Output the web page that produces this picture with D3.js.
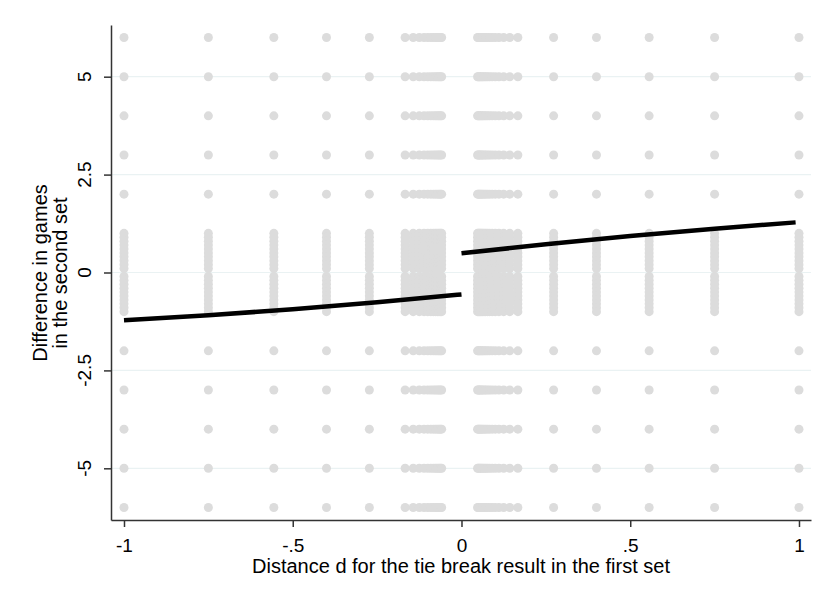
<!DOCTYPE html>
<html>
<head>
<meta charset="utf-8">
<script src="https://cdn.jsdelivr.net/npm/d3@7/dist/d3.min.js"></script>
<style>
  html, body { margin: 0; padding: 0; background: #ffffff; }
  svg { display: block; }
  text { font-family: "Liberation Sans", Arial, Helvetica, sans-serif; fill: #000; }
</style>
</head>
<body>
<svg id="chart" width="821" height="603"></svg>
<script>
// ---------------- data ----------------
// distance d values of the sparse outer columns
const outerD = [-1, -0.75, -0.556, -0.4, -0.273, 0.273, 0.4, 0.556, 0.75, 1];
// distance d values in the dense clusters just left / right of the cutoff
const innerLeftD = [-0.167, -0.143, -0.125, -0.111, -0.1, -0.0909, -0.0833, -0.0769, -0.0714, -0.0667, -0.0625, -0.0588];
const innerRightD = [0.0476, 0.05, 0.0526, 0.0556, 0.0588, 0.0625, 0.0667, 0.0714, 0.0769, 0.0833, 0.0909, 0.1, 0.111, 0.125, 0.143, 0.167];
// integer game-difference rows present in every column
const yRows = [6, 5, 4, 3, 2, -2, -3, -4, -5, -6];
// values forming the dense vertical strip around zero
const yStrip = [1, 0.9, 0.8, 0.7, 0.6, 0.5, 0.4, 0.3, 0.2, 0.1, -0.1, -0.2, -0.3, -0.4, -0.5, -0.6, -0.7, -0.8, -0.9, -1];
// fitted curves (left and right of the cutoff)
const fitLeftX = [-1, -0.75, -0.5, -0.25, 0];
const fitLeftY = [-1.22, -1.09, -0.94, -0.76, -0.56];
const fitRightX = [0, 0.25, 0.5, 0.75, 0.99];
const fitRightY = [0.49, 0.72, 0.93, 1.12, 1.28];
// ticks
const xTicks = [-1, -0.5, 0, 0.5, 1];
const xTickLabels = ["-1", "-.5", "0", ".5", "1"];
const yTicks = [-5, -2.5, 0, 2.5, 5];
const yTickLabels = ["-5", "-2.5", "0", "2.5", "5"];
const xTitle = "Distance d for the tie break result in the first set";
const yTitle = ["Difference in games", "in the second set"];

// ---------------- build point table ----------------
const points = [];
const allD = outerD.concat(innerLeftD, innerRightD);
allD.forEach(d => {
  yRows.forEach(y => points.push({ d, y }));
  yStrip.forEach(y => points.push({ d, y }));
});

// ---------------- scales ----------------
const svg = d3.select("#chart");
const x = d3.scaleLinear().domain([-1.0385, 1.0356]).range([111, 811]);
const y = d3.scaleLinear().domain([-6.32, 6.32]).range([520, 25]);

// gridlines
svg.append("g").selectAll("line").data(yTicks).join("line")
  .attr("x1", 111).attr("x2", 811)
  .attr("y1", d => y(d)).attr("y2", d => y(d))
  .attr("stroke", "#eaf2f3").attr("stroke-width", 1.2);

// scatter
svg.append("g").selectAll("circle").data(points).join("circle")
  .attr("cx", p => x(p.d)).attr("cy", p => y(p.y)).attr("r", 4.5)
  .attr("fill", "#dcdcdc");

// fit lines
const line = d3.line().x(p => x(p[0])).y(p => y(p[1])).curve(d3.curveMonotoneX);
svg.append("path").datum(fitLeftX.map((v, i) => [v, fitLeftY[i]]))
  .attr("d", line).attr("fill", "none").attr("stroke", "#000").attr("stroke-width", 4.5);
svg.append("path").datum(fitRightX.map((v, i) => [v, fitRightY[i]]))
  .attr("d", line).attr("fill", "none").attr("stroke", "#000").attr("stroke-width", 4.5);

// x axis
const xAxis = svg.append("g").attr("transform", "translate(0,520)")
  .call(d3.axisBottom(x).tickValues(xTicks).tickFormat((d, i) => xTickLabels[i]).tickSize(7).tickSizeOuter(0).tickPadding(16));
xAxis.selectAll("path, line").attr("stroke", "#333").attr("stroke-width", 1.5);
xAxis.selectAll("text").attr("font-size", 19).attr("font-family", "Liberation Sans, Arial, sans-serif")
  .attr("fill", "#000").attr("dy", 0).attr("y", 32);

// y axis
const yAxis = svg.append("g").attr("transform", "translate(111,0)")
  .call(d3.axisLeft(y).tickValues(yTicks).tickFormat((d, i) => yTickLabels[i]).tickSize(7).tickSizeOuter(0));
yAxis.selectAll("path, line").attr("stroke", "#333").attr("stroke-width", 1.5);
yAxis.selectAll("text").remove();
svg.append("g").selectAll("text").data(yTicks).join("text")
  .attr("transform", d => `translate(91,${y(d)}) rotate(-90)`)
  .attr("text-anchor", "middle").attr("font-size", 19)
  .text((d, i) => yTickLabels[i]);

// titles
svg.append("text").attr("x", 461).attr("y", 573).attr("text-anchor", "middle")
  .attr("font-size", 20).text(xTitle);
svg.append("g").selectAll("text").data(yTitle).join("text")
  .attr("transform", (d, i) => `translate(${47 + i * 20},273) rotate(-90)`)
  .attr("text-anchor", "middle").attr("font-size", 20)
  .text(d => d);
</script>
</body>
</html>
